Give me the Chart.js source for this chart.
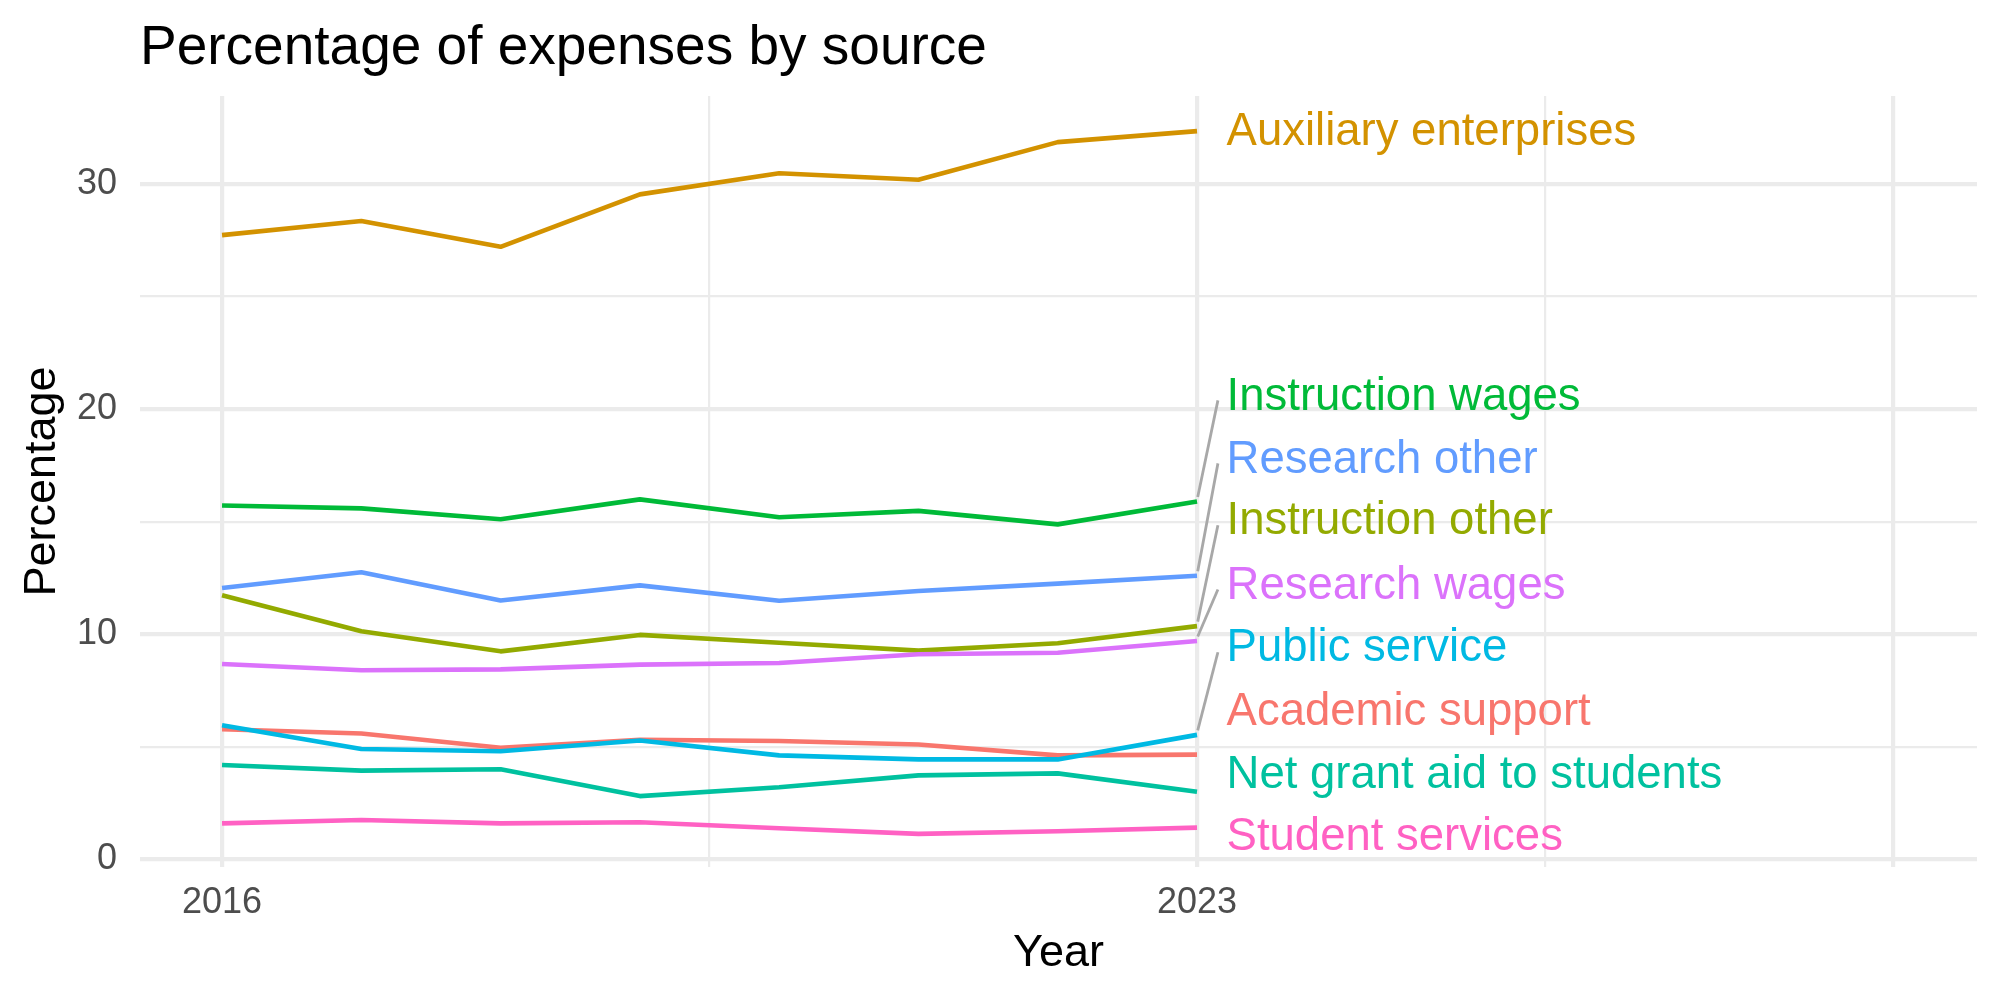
<!DOCTYPE html>
<html>
<head>
<meta charset="utf-8">
<script src="https://cdn.jsdelivr.net/npm/chart.js@4"></script>
<style>
html,body{margin:0;padding:0;background:#fff;}
</style>
</head>
<body>
<canvas id="myChart" width="2000" height="1000"></canvas>
<script>
// datos
const years = [2016, 2017, 2018, 2019, 2020, 2021, 2022, 2023];
const sources = ['Academic support', 'Auxiliary enterprises', 'Instruction other', 'Instruction wages',
  'Net grant aid to students', 'Public service', 'Research other', 'Research wages', 'Student services'];
const academicSupport      = [5.78, 5.59, 4.96, 5.31, 5.26, 5.10, 4.62, 4.65];
const auxiliaryEnterprises = [27.73, 28.36, 27.21, 29.54, 30.48, 30.19, 31.86, 32.35];
const instructionOther     = [11.73, 10.13, 9.24, 9.97, 9.62, 9.27, 9.60, 10.36];
const instructionWages     = [15.72, 15.59, 15.11, 15.99, 15.20, 15.48, 14.88, 15.90];
const netGrantAid          = [4.19, 3.94, 4.00, 2.81, 3.20, 3.73, 3.82, 3.00];
const publicService        = [5.96, 4.90, 4.80, 5.28, 4.62, 4.44, 4.44, 5.53];
const researchOther        = [12.05, 12.75, 11.50, 12.17, 11.49, 11.92, 12.25, 12.60];
const researchWages        = [8.68, 8.40, 8.44, 8.65, 8.72, 9.11, 9.18, 9.70];
const studentServices      = [1.60, 1.75, 1.60, 1.65, 1.38, 1.13, 1.25, 1.41];

// posicion (en datos) de las etiquetas de la derecha
const labelY = [6.52, 32.30, 14.99, 20.54, 3.73, 9.35, 17.74, 12.14, 0.97];
const conSegmento = [false, false, true, true, false, true, true, true, false];

// ticks
const xBreaks = [2016, 2019.5, 2023, 2025.5, 2028];
const xLabels = ['2016', '', '2023', '', ''];
const yBreaks = [0, 5, 10, 15, 20, 25, 30];
const yLabels = ['0', '', '10', '', '20', '', '30'];

const colores = ['#F8766D', '#D39200', '#93AA00', '#00BA38', '#00C19F', '#00B9E3', '#619CFF', '#DB72FB', '#FF61C3'];
const fuente = '"Liberation Sans", Arial, sans-serif';

const series = [academicSupport, auxiliaryEnterprises, instructionOther, instructionWages,
  netGrantAid, publicService, researchOther, researchWages, studentServices];

const labelX = 2023.212;
const segFinX = 2023.15;

const datasets = [];
series.forEach((vals, i) => {
  datasets.push({
    label: sources[i],
    data: years.map((y, k) => ({x: y, y: vals[k]})),
    borderColor: colores[i],
    borderWidth: 4.6,
    pointRadius: 0,
    fill: false,
    order: series.length - i
  });
});
// segmentos grises hacia las etiquetas
series.forEach((vals, i) => {
  if (!conSegmento[i]) return;
  const ult = vals[vals.length - 1];
  datasets.push({
    label: 'seg ' + sources[i],
    data: [{x: years[years.length - 1] + 0.005, y: ult + 0.2}, {x: segFinX, y: labelY[i] - 0.15}],
    borderColor: '#A8A8A8',
    borderWidth: 2.8,
    pointRadius: 0,
    fill: false,
    order: -1
  });
});

const textos = {
  id: 'textos',
  afterDraw(chart) {
    const ctx = chart.ctx, a = chart.chartArea;
    const sx = chart.scales.x, sy = chart.scales.y;
    ctx.save();
    ctx.fillStyle = '#000000';
    ctx.textBaseline = 'alphabetic';
    ctx.textAlign = 'left';
    ctx.font = '55px ' + fuente;
    ctx.fillText('Percentage of expenses by source', a.left, 64);

    ctx.font = '45px ' + fuente;
    ctx.textAlign = 'center';
    ctx.fillText('Year', (a.left + a.right) / 2, 966);

    ctx.save();
    ctx.translate(55, (a.top + a.bottom) / 2);
    ctx.rotate(-Math.PI / 2);
    ctx.fillText('Percentage', 0, 0);
    ctx.restore();

    // etiquetas al final de cada linea
    ctx.textAlign = 'left';
    ctx.textBaseline = 'middle';
    ctx.font = '45.5px ' + fuente;
    sources.forEach((s, i) => {
      ctx.fillStyle = colores[i];
      ctx.fillText(s, sx.getPixelForValue(labelX), sy.getPixelForValue(labelY[i]));
    });
    ctx.restore();
  }
};

const config = {
  type: 'line',
  data: {datasets: datasets},
  options: {
    responsive: false,
    animation: false,
    devicePixelRatio: 1,
    layout: {padding: {top: 96, right: 23, left: 0, bottom: 0}},
    plugins: {legend: {display: false}, tooltip: {enabled: false}, title: {display: false}},
    elements: {line: {tension: 0, borderCapStyle: 'butt', borderJoinStyle: 'round'}},
    scales: {
      x: {
        type: 'linear',
        min: 2015.411,
        max: 2028.6,
        afterBuildTicks: s => { s.ticks = xBreaks.map(v => ({value: v})); },
        afterFit: s => { s.height = 133; },
        border: {display: false},
        grid: {
          color: '#EBEBEB',
          drawTicks: false,
          lineWidth: c => (c.tick && xLabels[xBreaks.indexOf(c.tick.value)] === '' && c.tick.value !== 2028) ? 2.2 : 4.2
        },
        ticks: {
          padding: 14,
          autoSkip: false,
          maxRotation: 0,
          color: '#4D4D4D',
          font: {family: fuente, size: 36},
          callback: v => xLabels[xBreaks.indexOf(v)]
        }
      },
      y: {
        min: -0.34,
        max: 33.91,
        afterBuildTicks: s => { s.ticks = yBreaks.map(v => ({value: v})); },
        afterFit: s => { s.width = 140; },
        border: {display: false},
        grid: {
          color: '#EBEBEB',
          drawTicks: false,
          lineWidth: c => (c.tick && yLabels[yBreaks.indexOf(c.tick.value)] === '') ? 2.2 : 4.2
        },
        ticks: {
          padding: 23,
          color: '#4D4D4D',
          font: {family: fuente, size: 36},
          callback: v => yLabels[yBreaks.indexOf(v)]
        }
      }
    }
  },
  plugins: [textos]
};

const myChart = new Chart(document.getElementById('myChart'), config);
</script>
</body>
</html>
